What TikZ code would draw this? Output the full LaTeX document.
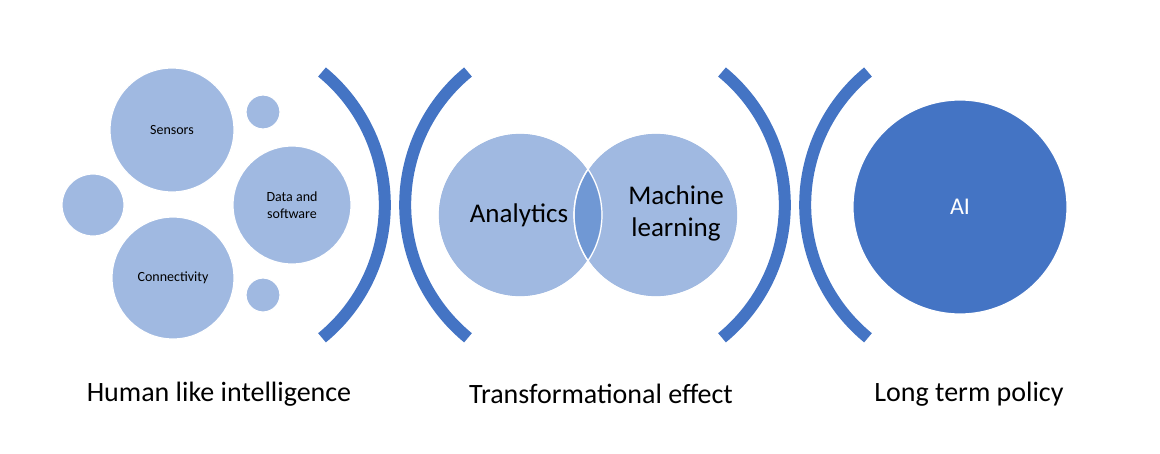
\documentclass[tikz,border=0pt]{standalone}
\usepackage{fontspec}
\setmainfont{Carlito}
\definecolor{mylightblue}{RGB}{160,185,225}
\definecolor{mymidblue}{RGB}{112,152,212}
\definecolor{mydarkblue}{RGB}{68,116,196}
\usetikzlibrary{positioning}

\begin{document}
\begin{tikzpicture}[
  x=1pt, y=-1pt,
  mycirc/.style={
    circle,
    draw=white,
    line width=1.2pt,
    fill=mylightblue,
    minimum size=#1,
    inner sep=0pt,
    align=center,
    font=\fontsize{14}{17}\selectfont
    },
  mybracket/.style={
    draw=mydarkblue,
    line width=12pt
    },
  mylabel/.style={
    font=\fontsize{28}{32}\selectfont
    }
]
\useasboundingbox (0,0) rectangle (1160,453);

% left cluster
\node[mycirc=124pt] (sensors) at (172,130) {Sensors};
\node[mycirc=122pt] (connect) at (173,278) {Connectivity};
\node[mycirc=118pt] (data) at (292,205) {Data and\\software};
\node[mycirc=34pt] (s1) at (263,112) {};
\node[mycirc=62pt] (s2) at (93,205) {};
\node[mycirc=34pt] (s3) at (263,295) {};

% brackets
\draw[mybracket] (322,72) arc[start angle=-50.6, end angle=50.6, radius=172];
\draw[mybracket] (468,72) arc[start angle=230.6, end angle=129.4, radius=172];
\draw[mybracket] (722,72) arc[start angle=-50.6, end angle=50.6, radius=172];
\draw[mybracket] (868,72) arc[start angle=230.6, end angle=129.4, radius=172];

% venn
\node[mycirc=164pt] (analytics) at (520,215) {};
\node[mycirc=164pt] (ml) at (656,215) {};
\begin{scope}
  \clip (520,215) circle[radius=81];
  \fill[mymidblue] (656,215) circle[radius=81];
\end{scope}
\draw[white, line width=1.2pt] (520,215) circle[radius=82];
\draw[white, line width=1.2pt] (656,215) circle[radius=82];
\node[font=\fontsize{27}{32}\selectfont] at (519,215) {Analytics};
\node[font=\fontsize{27}{32}\selectfont, align=center] at (676,213) {Machine\\learning};

% AI
\node[mycirc=214pt, fill=mydarkblue, text=white, font=\fontsize{24}{28}\selectfont] (ai) at (960,207) {AI};

% labels
\node[mylabel] (l1) at (219,394) {Human like intelligence};
\node[mylabel] (l2) at (601,394) {Transformational effect};
\node[mylabel] (l3) at (969,394) {Long term policy};
\end{tikzpicture}
\end{document}
